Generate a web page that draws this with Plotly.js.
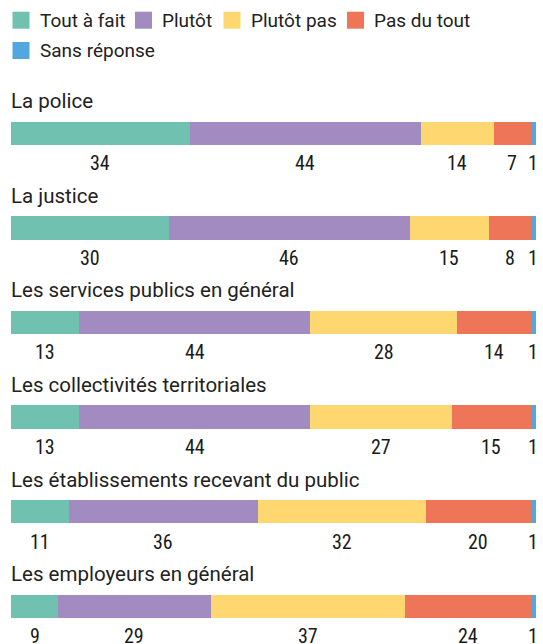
<!DOCTYPE html>
<html>
<head>
<meta charset="utf-8">
<script src="https://cdn.plot.ly/plotly-3.0.1.min.js"></script>
<style>html,body{margin:0;padding:0;background:#fff;}#chart{width:543px;height:644px;}</style>
</head>
<body>
<div id="chart"></div>
<script>
const categories = ["La police","La justice","Les services publics en général","Les collectivités territoriales","Les établissements recevant du public","Les employeurs en général"];
const seriesNames = ["Tout à fait","Plutôt","Plutôt pas","Pas du tout","Sans réponse"];
const toutAFait   = [34,30,13,13,11,9];
const plutot      = [44,46,44,44,36,29];
const plutotPas   = [14,15,28,27,32,37];
const pasDuTout   = [7,8,14,15,20,24];
const sansReponse = [1,1,1,1,1,1];
const colors = ["#70c1b0","#a28bc1","#ffd770","#ee7558","#52a8de"];

const series = [toutAFait, plutot, plutotPas, pasDuTout, sansReponse];
const yIdx = categories.map((c,i)=>i);

const W = 543, H = 644, ML = 11, MR = 7;
const PW = W - ML - MR;
const px2paperX = p => (p - ML) / PW;
const px2paperY = p => 1 - p / H;

const traces = series.map((vals,k)=>({
  type:'bar', orientation:'h', name: seriesNames[k],
  x: vals, y: yIdx, width: 0.246,
  marker:{color: colors[k], line:{width:0}},
  hoverinfo:'skip', showlegend:false
}));

const legendFont = {family:'Roboto, sans-serif', size:19, color:'#222'};
const titleFont = {family:'Roboto, sans-serif', size:20.5, color:'#222'};
const numFont = {family:'"Liberation Sans Narrow", "Roboto Condensed", "DejaVu Sans Condensed", "DejaVu Sans", sans-serif', size:20, color:'#1a1a1a'};

const annotations = [];
const shapes = [];

// legend (manual, two rows)
const legendPos = [[12.5,20.2],[135,20.2],[223.5,20.2],[347,20.2],[12.5,50.5]];
seriesNames.forEach((n,k)=>{
  const [lx, cy] = legendPos[k];
  shapes.push({type:'rect', xref:'paper', yref:'paper', x0:px2paperX(lx), x1:px2paperX(lx+17),
    y0:px2paperY(cy-8.5), y1:px2paperY(cy+8.5), fillcolor:colors[k], line:{width:0}, layer:'above'});
  annotations.push({xref:'paper', yref:'paper', x:px2paperX(lx+25), y:px2paperY(cy), xanchor:'left', yanchor:'middle',
    text:n, showarrow:false, font:legendFont});
});

categories.forEach((c,i)=>{
  annotations.push({xref:'paper', x:0, xshift:-2, yref:'y', y:i, yshift:32, xanchor:'left', yanchor:'middle',
    text:c, showarrow:false, font:titleFont});
  let cum = 0;
  series.forEach((vals,k)=>{
    const v = vals[i];
    annotations.push({xref:'x', x: cum + v/2, yref:'y', y:i, yshift:-30, xanchor:'center', yanchor:'middle',
      text:'<span style="font-stretch:condensed">' + v + '</span>', showarrow:false, font:numFont});
    cum += v;
  });
});

const layout = {
  width:W, height:H,
  margin:{l:ML, r:MR, t:0, b:0},
  barmode:'stack',
  showlegend:false,
  xaxis:{range:[0,100], visible:false, fixedrange:true},
  yaxis:{range:[5.399,-1.409], visible:false, fixedrange:true},
  annotations: annotations,
  shapes: shapes,
  paper_bgcolor:'#fff', plot_bgcolor:'#fff'
};
Plotly.newPlot('chart', traces, layout, {displayModeBar:false, staticPlot:true});
</script>
</body>
</html>
